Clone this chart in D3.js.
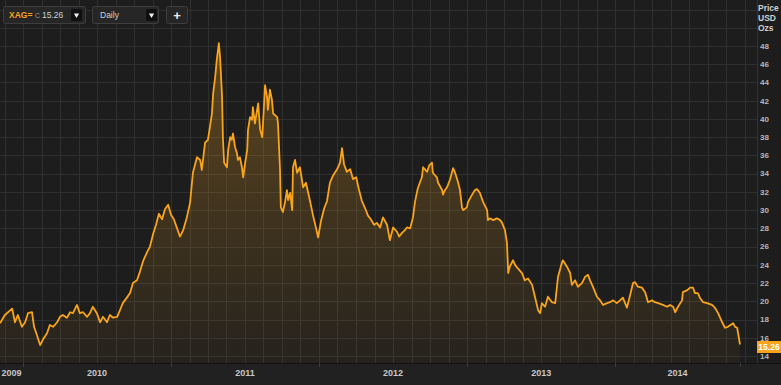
<!DOCTYPE html>
<html>
<head>
<meta charset="utf-8">
<script src="https://cdn.jsdelivr.net/npm/d3@7"></script>
<style>
  html, body { margin: 0; padding: 0; background: #1d1d1d; }
  svg { display: block; font-family: "Liberation Sans", Arial, sans-serif; }
  .grid line { stroke: #2f2f2f; shape-rendering: crispEdges; }
  .axis--x path { display: none; }
  .axis--x line { stroke: #3c3c3c; shape-rendering: crispEdges; }
  .yearLabel { fill: #c8c8c8; font-size: 9px; font-weight: bold; }
  .priceLabel { fill: #b8b8b8; font-size: 8px; font-weight: bold; }
  .unit { fill: #cfcfcf; font-size: 8.5px; font-weight: bold; }
  .tb text { font-size: 8.5px; }
</style>
</head>
<body>
<svg id="chart" width="781" height="385"></svg>
<script>
// XAG= daily close
var dates = [
  "2009-11-05","2009-11-17","2009-12-05","2009-12-12","2009-12-19","2009-12-29","2010-01-06","2010-01-13","2010-01-23","2010-01-28",
  "2010-02-04","2010-02-12","2010-02-19","2010-03-01","2010-03-08","2010-03-16","2010-03-26","2010-04-02","2010-04-09","2010-04-19",
  "2010-04-27","2010-05-04","2010-05-14","2010-05-21","2010-05-29","2010-06-08","2010-06-15","2010-06-22","2010-07-02","2010-07-10",
  "2010-07-17","2010-07-27","2010-08-03","2010-08-11","2010-08-21","2010-08-26","2010-09-04","2010-09-14","2010-09-22","2010-09-29",
  "2010-10-09","2010-10-16","2010-10-24","2010-11-03","2010-11-10","2010-11-18","2010-11-25","2010-12-02","2010-12-10","2010-12-17",
  "2010-12-25","2011-01-01","2011-01-08","2011-01-16","2011-01-23","2011-01-31","2011-02-09","2011-02-17","2011-02-24","2011-03-06",
  "2011-03-14","2011-03-18","2011-03-26","2011-04-02","2011-04-07","2011-04-12","2011-04-15","2011-04-20","2011-04-24","2011-04-29",
  "2011-05-02","2011-05-07","2011-05-09","2011-05-12","2011-05-19","2011-05-22","2011-05-27","2011-05-31","2011-06-03","2011-06-08",
  "2011-06-13","2011-06-15","2011-06-20","2011-06-25","2011-06-28","2011-07-03","2011-07-08","2011-07-10","2011-07-15","2011-07-20",
  "2011-07-22","2011-07-27","2011-08-04","2011-08-09","2011-08-14","2011-08-16","2011-08-21","2011-08-26","2011-08-28","2011-09-02",
  "2011-09-07","2011-09-10","2011-09-20","2011-09-22","2011-09-27","2011-09-29","2011-10-04","2011-10-09","2011-10-14","2011-10-17",
  "2011-10-22","2011-10-27","2011-10-29","2011-11-03","2011-11-08","2011-11-15","2011-11-23","2011-11-30","2011-12-10","2011-12-17",
  "2011-12-25","2011-12-30","2012-01-06","2012-01-14","2012-01-21","2012-01-28","2012-02-05","2012-02-15","2012-02-22","2012-02-27",
  "2012-03-03","2012-03-10","2012-03-18","2012-03-25","2012-04-02","2012-04-09","2012-04-16","2012-04-24","2012-05-01","2012-05-08",
  "2012-05-16","2012-05-23","2012-05-31","2012-06-07","2012-06-17","2012-06-24","2012-07-02","2012-07-12","2012-07-17","2012-07-24",
  "2012-07-31","2012-08-05","2012-08-13","2012-08-20","2012-08-25","2012-09-01","2012-09-11","2012-09-14","2012-09-24","2012-09-29",
  "2012-10-06","2012-10-08","2012-10-18","2012-10-21","2012-10-31","2012-11-02","2012-11-07","2012-11-12","2012-11-19","2012-11-24",
  "2012-11-27","2012-12-02","2012-12-09","2012-12-14","2012-12-19","2012-12-22","2012-12-31","2013-01-03","2013-01-13","2013-01-20",
  "2013-01-25","2013-02-01","2013-02-09","2013-02-19","2013-02-21","2013-02-26","2013-03-06","2013-03-15","2013-03-23","2013-03-28",
  "2013-04-04","2013-04-09","2013-04-12","2013-04-16","2013-04-24","2013-04-29","2013-05-06","2013-05-16","2013-05-23","2013-05-31",
  "2013-06-10","2013-06-17","2013-06-25","2013-06-30","2013-07-04","2013-07-12","2013-07-19","2013-07-29","2013-08-06","2013-08-13",
  "2013-08-23","2013-08-25","2013-09-04","2013-09-12","2013-09-16","2013-09-24","2013-10-01","2013-10-11","2013-10-19","2013-10-26",
  "2013-10-31","2013-11-07","2013-11-17","2013-11-25","2013-12-02","2013-12-12","2013-12-19","2013-12-27","2014-01-05","2014-01-13",
  "2014-01-20","2014-01-30","2014-02-07","2014-02-14","2014-02-19","2014-02-26","2014-03-08","2014-03-16","2014-03-23","2014-04-02",
  "2014-04-09","2014-04-17","2014-04-29","2014-05-09","2014-05-16","2014-05-24","2014-05-29","2014-06-05","2014-06-15","2014-06-17",
  "2014-06-27","2014-07-05","2014-07-12","2014-07-17","2014-07-24","2014-07-29","2014-08-06","2014-08-16","2014-08-28","2014-09-04",
  "2014-09-12","2014-09-22","2014-09-29","2014-10-06","2014-10-19","2014-10-24","2014-10-29","2014-11-05"
];
var prices = [
  17.6,18.5,19.2,17.7,18.5,17.2,17.7,18.7,18.8,17.2,
  16.3,15.2,15.8,16.5,17.4,17.2,17.7,18.3,18.5,18.2,
  18.8,18.7,19.6,18.7,18.8,18.3,18.7,19.4,18.7,17.7,
  18.3,17.7,18.5,18.2,18.3,18.8,19.8,20.4,20.9,22.0,
  22.3,23.2,24.4,25.4,26.0,27.4,28.4,29.6,29.0,30.1,
  30.6,29.5,29.0,28.0,27.1,27.8,29.2,30.8,34.1,35.8,
  35.5,34.4,37.4,37.7,39.1,40.6,42.8,44.6,46.5,48.3,
  46.8,42.4,38.0,35.2,34.7,36.6,38.0,37.7,38.4,36.9,
  36.2,35.5,35.8,34.7,33.6,35.2,36.6,38.8,40.2,39.9,
  41.3,39.5,41.7,38.8,38.0,39.5,43.7,42.4,41.0,43.2,
  42.1,40.6,40.2,39.5,34.4,30.3,29.8,30.8,32.2,31.1,
  31.9,30.0,34.7,35.5,34.1,34.7,32.5,33.0,31.0,29.5,
  28.0,27.0,28.8,30.2,31.0,33.0,33.8,34.5,35.2,36.8,
  35.0,34.2,34.5,33.4,33.6,32.2,31.0,30.2,29.4,29.0,
  28.4,28.6,28.1,29.2,28.4,26.7,28.1,27.6,27.1,27.5,
  27.8,28.1,28.0,29.2,30.9,32.4,33.6,34.7,34.2,34.9,
  35.2,34.1,33.6,33.0,32.2,31.7,32.2,32.5,33.3,34.1,
  34.6,34.1,33.1,32.2,30.3,30.0,30.3,30.9,31.7,32.2,
  32.3,31.9,30.9,30.0,28.9,29.1,28.9,29.1,28.9,28.6,
  27.8,26.4,23.1,23.8,24.5,24.0,23.6,23.1,22.3,22.5,
  21.8,20.5,19.0,18.7,19.8,19.4,20.5,19.9,19.8,22.7,
  24.3,24.5,23.8,23.1,21.8,22.3,21.6,22.0,22.7,22.9,
  22.3,21.6,20.5,20.1,19.6,19.8,19.9,20.1,19.8,20.1,
  20.4,19.3,20.7,22.0,22.1,21.6,21.5,21.0,19.9,20.1,
  19.9,19.8,19.6,19.4,19.6,19.4,18.8,19.4,20.1,21.0,
  21.2,21.5,21.5,20.9,20.9,20.4,19.9,19.8,19.6,19.3,
  18.7,17.7,17.1,17.2,17.6,17.2,17.1,15.26
];
var yearLabels  = ["2009", "2010", "2011", "2012", "2013", "2014"];
var priceTicks  = [14, 16, 18, 20, 22, 24, 26, 28, 30, 32, 34, 36, 38, 40, 42, 44, 46, 48];
var unitLabels  = ["Price", "USD", "Ozs"];
var instrument  = "XAG=";
var interval    = "Daily";

var parse = d3.timeParse("%Y-%m-%d");
var data = dates.map(function(d, i) { return {date: parse(d), price: prices[i]}; });
var last = data[data.length - 1];

var svg    = d3.select("#chart"),
    W      = +svg.attr("width"),
    H      = +svg.attr("height"),
    plotR  = 757,
    plotB  = 363;

var x = d3.scaleTime()
    .domain([parse("2009-11-05"), parse("2014-11-05")])
    .range([0, 740]);
var y = d3.scaleLinear()
    .domain([14, 48])
    .range([356, 46]);

// backgrounds
svg.append("rect").attr("width", W).attr("height", H).attr("fill", "#1d1d1d");
svg.append("rect").attr("x", 0).attr("y", plotB).attr("width", W).attr("height", H - plotB).attr("fill", "#212121");

var defs = svg.append("defs");
var grad = defs.append("linearGradient")
    .attr("id", "areaFill")
    .attr("gradientUnits", "userSpaceOnUse")
    .attr("x1", 0).attr("x2", 0).attr("y1", y(48)).attr("y2", plotB);
grad.append("stop").attr("offset", "0%").attr("stop-color", "#f5a623").attr("stop-opacity", 0.30);
grad.append("stop").attr("offset", "100%").attr("stop-color", "#f5a623").attr("stop-opacity", 0.04);

// grid: 8 columns a year, a row every 2 USD
var years = d3.timeYear.range(parse("2009-01-01"), parse("2015-01-01"));
var cols = [];
years.forEach(function(t) {
  var a = x(t), b = x(d3.timeYear.offset(t, 1));
  d3.range(8).forEach(function(k) {
    var px = a + k * (b - a) / 8;
    if (px >= 0 && px <= plotR) cols.push(px);
  });
});
var grid = svg.append("g").attr("class", "grid");
grid.selectAll(".v").data(cols).enter().append("line")
    .attr("x1", function(d) { return Math.round(d) + 0.5; })
    .attr("x2", function(d) { return Math.round(d) + 0.5; })
    .attr("y1", 0).attr("y2", plotB);
grid.selectAll(".h").data(d3.range(14, 53, 2)).enter().append("line")
    .attr("x1", 0).attr("x2", plotR)
    .attr("y1", function(d) { return Math.round(y(d)) + 0.5; })
    .attr("y2", function(d) { return Math.round(y(d)) + 0.5; });

// area + line
var area = d3.area()
    .x(function(d) { return x(d.date); })
    .y0(plotB)
    .y1(function(d) { return y(d.price); });
var line = d3.line()
    .x(function(d) { return x(d.date); })
    .y(function(d) { return y(d.price); });

svg.append("path").datum(data).attr("d", area).attr("fill", "url(#areaFill)");
svg.append("path").datum(data).attr("d", line)
    .attr("fill", "none")
    .attr("stroke", "#f8a41c")
    .attr("stroke-width", 1.8)
    .attr("stroke-linejoin", "round");

// right axis panel
svg.append("line")
    .attr("x1", plotR + 0.5).attr("x2", plotR + 0.5).attr("y1", 0).attr("y2", plotB)
    .attr("stroke", "#333");
svg.append("line")
    .attr("x1", 0).attr("x2", W).attr("y1", plotB + 0.5).attr("y2", plotB + 0.5)
    .attr("stroke", "#111");

svg.selectAll(".priceLabel").data(priceTicks).enter().append("text")
    .attr("class", "priceLabel")
    .attr("x", plotR + 3)
    .attr("y", function(d) { return y(d); })
    .attr("dy", "0.35em")
    .text(function(d) { return d; });

svg.selectAll(".unit").data(unitLabels).enter().append("text")
    .attr("class", "unit")
    .attr("x", plotR + 1)
    .attr("y", function(d, i) { return 8 + i * 10; })
    .attr("dy", "0.35em")
    .text(function(d) { return d; });

// last price tag (sits just under the 16 label)
var tag = svg.append("g").attr("transform", "translate(" + plotR + "," + y(last.price) + ")");
tag.append("rect").attr("x", 0).attr("y", -3.5).attr("width", W - plotR).attr("height", 12).attr("fill", "#f8a41c");
tag.append("text").attr("x", (W - plotR) / 2).attr("y", 2.5).attr("dy", "0.35em")
    .attr("text-anchor", "middle").attr("fill", "#fff")
    .style("font-size", "8.5px").style("font-weight", "bold")
    .text(d3.format(".2f")(last.price));

// x axis: ticks at year starts, labels centred in each year band
var tickDates = years.filter(function(t) { return x(t) > 0 && x(t) < 740; }).concat([last.date]);
svg.append("g")
    .attr("class", "axis axis--x")
    .attr("transform", "translate(0," + plotB + ")")
    .call(d3.axisBottom(x).tickValues(tickDates).tickSize(4).tickFormat(""));

svg.selectAll(".yearLabel").data(yearLabels).enter().append("text")
    .attr("class", "yearLabel")
    .attr("text-anchor", "middle")
    .attr("x", function(d) {
      var t = parse(d + "-01-01");
      var a = Math.max(0, x(t)), b = Math.min(740, x(d3.timeYear.offset(t, 1)));
      return (a + b) / 2;
    })
    .attr("y", 376)
    .text(function(d) { return d; });

// toolbar
var tb = svg.append("g").attr("class", "tb");
function box(x0, w) {
  tb.append("rect").attr("x", x0 + 0.5).attr("y", 6.5).attr("width", w).attr("height", 17)
    .attr("rx", 2).attr("fill", "#262626").attr("stroke", "#3d3d3d");
}
function dropBtn(x0) {
  tb.append("rect").attr("x", x0).attr("y", 9).attr("width", 11).attr("height", 12).attr("rx", 1).attr("fill", "#0f0f0f");
  tb.append("path").attr("d", d3.symbol(d3.symbolTriangle, 12)()).attr("fill", "#eee")
    .attr("transform", "translate(" + (x0 + 5.5) + ",15) rotate(180)");
}
box(3, 82);
tb.append("text").attr("x", 9).attr("y", 18).attr("fill", "#f8a41c").style("font-weight", "bold").text(instrument);
tb.append("text").attr("x", 35).attr("y", 18).attr("fill", "#9a9a9a").style("font-size", "7px").text("C");
tb.append("text").attr("x", 42).attr("y", 18).attr("fill", "#d0d0d0").text(last.price.toFixed(2));
dropBtn(71);
box(92, 66);
tb.append("text").attr("x", 100).attr("y", 18).attr("fill", "#d0d0d0").text(interval);
dropBtn(146);
box(166, 21);
tb.append("text").attr("x", 177).attr("y", 19.5).attr("text-anchor", "middle").attr("fill", "#eee")
  .style("font-size", "13px").style("font-weight", "bold").text("+");
</script>
</body>
</html>
